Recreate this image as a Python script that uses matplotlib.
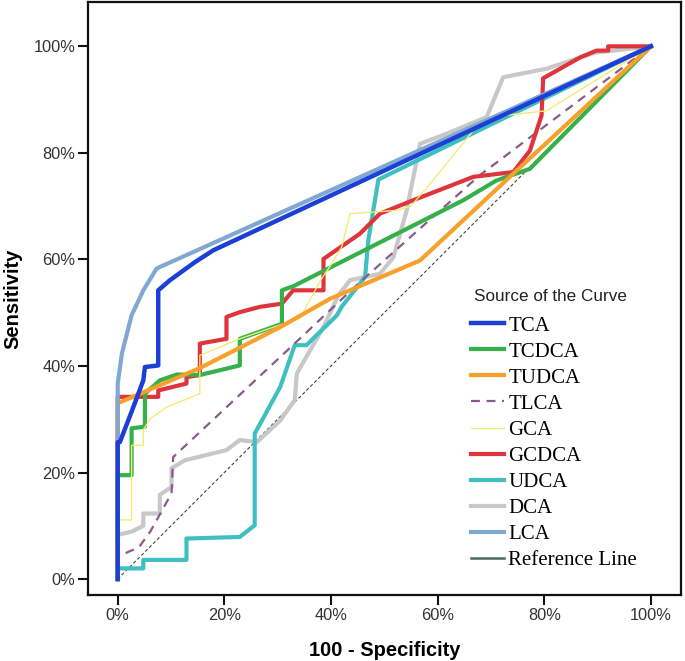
import matplotlib
matplotlib.use("Agg")
import matplotlib.pyplot as plt
from matplotlib.lines import Line2D

# ROC curves, values in percent (x = 100 - specificity, y = sensitivity)
tca_x = [0, 0, 0.4, 2.6, 4.8, 5.1, 7.6, 7.6, 9.8, 14.5, 17.9, 100]
tca_y = [0, 25.7, 25.7, 31.4, 37.3, 39.8, 40.1, 54.2, 56.1, 59.5, 61.7, 100]

tcdca_x = [0, 0, 2.6, 2.6, 5.1, 5.1, 7.9, 11.1, 15.4, 22.9, 22.9, 30.8, 30.8, 33.0, 64.8, 71.0, 77.3, 100]
tcdca_y = [0, 19.5, 19.5, 28.3, 28.6, 34.8, 37.3, 38.4, 38.3, 40.1, 45.1, 47.9, 54.2, 55.0, 71.1, 74.8, 77.0, 100]

tudca_x = [0, 0, 15.4, 30.5, 39.8, 56.7, 74.2, 100]
tudca_y = [0, 33.0, 39.6, 47.3, 52.6, 59.8, 76.1, 100]

tlca_x = [0, 0, 4.0, 6.1, 10.1, 10.4, 30.5, 45.4, 67.9, 100]
tlca_y = [0, 4.2, 6.0, 8.9, 16.1, 22.9, 41.7, 55.7, 75.8, 100]

gca_x = [0, 0, 2.6, 2.6, 4.8, 4.8, 6.1, 9.2, 15.4, 15.4, 22.9, 34.2, 38.0, 40.0, 42.0, 43.6,
         52.3, 55.0, 58.6, 66.7, 69.8, 72.3, 80.4, 100]
gca_y = [0, 11.1, 11.1, 25.1, 25.1, 28.0, 30.1, 32.3, 34.8, 42.0, 45.1, 49.0, 56.0, 59.0, 62.3, 68.6,
         69.2, 70.0, 74.2, 84.2, 86.1, 87.0, 87.9, 100]

gcdca_x = [0, 0, 7.6, 7.6, 12.9, 12.9, 15.4, 15.4, 20.4, 20.4, 22.9, 26.7, 30.8, 32.9, 38.6, 38.6,
           45.4, 49.2, 55.4, 66.7, 74.2, 77.3, 79.5, 79.8, 86.7, 89.8, 92.0, 92.0, 100]
gcdca_y = [0, 34.2, 34.2, 35.4, 36.7, 37.9, 38.3, 44.2, 45.1, 49.2, 50.1, 51.1, 51.7, 54.2, 54.2, 60.1,
           64.8, 68.6, 71.1, 75.5, 76.4, 80.4, 87.0, 94.0, 97.9, 99.2, 99.2, 100, 100]

udca_x = [0, 0, 4.8, 4.8, 12.9, 12.9, 22.9, 25.7, 25.7, 30.5, 33.2, 35.4, 41.1, 42.0, 46.4, 47.0, 48.9, 100]
udca_y = [0, 2.0, 2.0, 3.6, 3.6, 7.6, 7.9, 10.1, 27.3, 36.1, 43.9, 43.9, 49.5, 51.1, 56.7, 63.6, 75.0, 100]

dca_x = [0, 0, 2.6, 4.8, 4.8, 7.9, 7.9, 10.1, 10.1, 12.6, 20.4, 22.9, 26.1, 30.5, 33.2, 33.6, 38.6,
         41.4, 43.6, 49.2, 51.7, 54.2, 56.7, 61.7, 69.2, 72.3, 80.4, 89.5, 100]
dca_y = [0, 8.3, 8.9, 10.0, 12.3, 12.3, 15.8, 17.3, 20.8, 22.3, 24.2, 26.1, 25.7, 29.8, 33.6, 38.6, 47.3,
         53.3, 56.1, 57.3, 60.4, 69.2, 81.7, 83.6, 86.7, 94.2, 95.8, 98.8, 100]

lca_x = [0, 0, 0.8, 2.6, 4.8, 7.3, 100]
lca_y = [0, 36.7, 42.4, 49.5, 54.2, 58.3, 100]

ref_x = [0, 100]
ref_y = [0, 100]

ticks = [0, 20, 40, 60, 80, 100]
tick_labels = ["0%", "20%", "40%", "60%", "80%", "100%"]

fig = plt.figure(figsize=(6.85, 6.61), dpi=100)
ax = fig.add_axes([0.1285, 0.0998, 0.866, 0.897])

ax.plot(ref_x, ref_y, color="#444444", lw=0.8, ls=(0, (3, 2)), zorder=1)
ax.plot(dca_x, dca_y, color="#c8c8c8", lw=3.0, label="DCA", zorder=2)
ax.plot(udca_x, udca_y, color="#3fc0c0", lw=3.0, label="UDCA", zorder=2)
ax.plot(tlca_x, tlca_y, color="#8a5a8c", lw=1.6, ls=(0, (4, 3)), label="TLCA", zorder=3)
ax.plot(gcdca_x, gcdca_y, color="#e0343c", lw=3.0, label="GCDCA", zorder=3)
ax.plot(tcdca_x, tcdca_y, color="#35b04a", lw=3.0, label="TCDCA", zorder=4)
ax.plot(gca_x, gca_y, color="#f3ec78", lw=1.0, label="GCA", zorder=5)
ax.plot(tudca_x, tudca_y, color="#f7a02c", lw=3.0, label="TUDCA", zorder=5)
ax.plot(lca_x, lca_y, color="#80a8d2", lw=3.0, label="LCA", zorder=5)
ax.plot(tca_x, tca_y, color="#1c3fd8", lw=3.2, label="TCA", zorder=6)

hmap = {h.get_label(): h for h in ax.get_lines()}
order = ["TCA", "TCDCA", "TUDCA", "TLCA", "GCA", "GCDCA", "UDCA", "DCA", "LCA"]
handles = [hmap[k] for k in order]
handles.append(Line2D([], [], color="#4d6a5e", lw=1.8))
labels = order + ["Reference Line"]

leg = ax.legend(handles, labels, loc="upper left", bbox_to_anchor=(0.645, 0.4705),
                frameon=False, prop={"family": "Liberation Serif", "size": 15},
                handlelength=1.6, handletextpad=0.2, labelspacing=0.31,
                borderaxespad=0, borderpad=0)
ax.text(0.651, 0.504, "Source of the Curve", transform=ax.transAxes, ha="left", va="center",
        fontfamily="Liberation Sans", fontsize=12.3, color="#222222")

ax.set_xlim(-5.57, 105.7)
ax.set_ylim(-3.0, 108.3)
ax.set_xticks(ticks)
ax.set_xticklabels(tick_labels)
ax.set_yticks(ticks)
ax.set_yticklabels(tick_labels)
for lab in ax.get_xticklabels() + ax.get_yticklabels():
    lab.set_fontfamily("Liberation Sans")
    lab.set_fontsize(11.8)
    lab.set_color("#333333")
ax.tick_params(direction="out", length=7, width=1.5, color="#111111", pad=2)
for s in ax.spines.values():
    s.set_linewidth(1.6)
    s.set_color("#111111")

ax.set_xlabel("100 - Specificity", fontfamily="Liberation Sans", fontweight="bold", fontsize=14.5, labelpad=13)
ax.set_ylabel("Sensitivity", fontfamily="Liberation Sans", fontweight="bold", fontsize=14.5, labelpad=8)

fig.savefig("out.png", dpi=100)
